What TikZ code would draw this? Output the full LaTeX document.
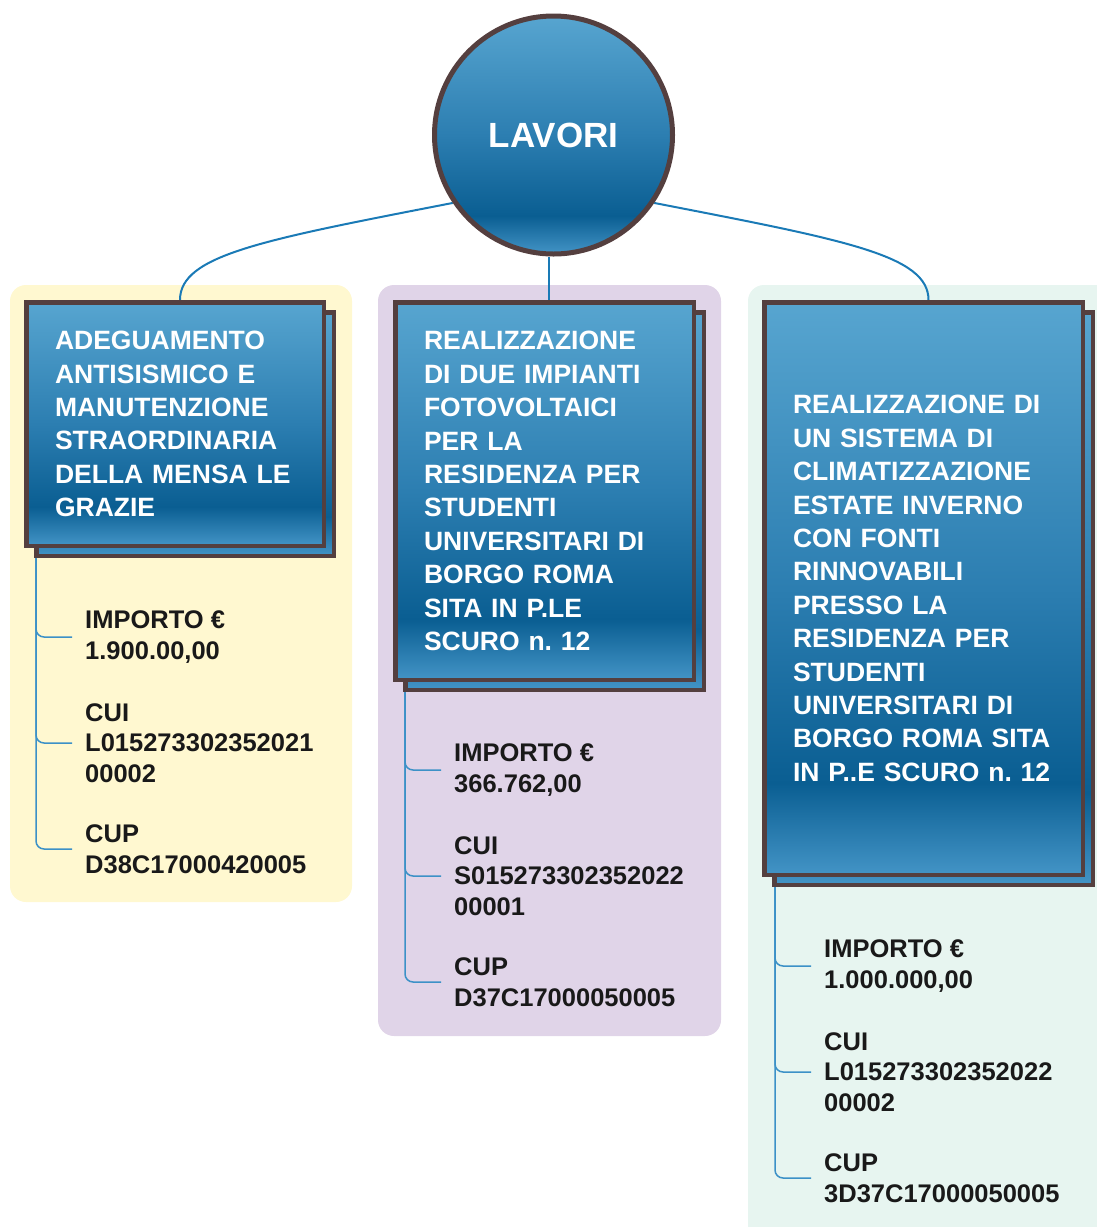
\documentclass[tikz,border=0pt]{standalone}
\usepackage{fontspec}
\setmainfont{Liberation Sans}
\usetikzlibrary{positioning,backgrounds}

\definecolor{bluetop}{HTML}{57A5D0}
\definecolor{bluemid}{HTML}{2C7EB1}
\definecolor{bluedark}{HTML}{0A5E92}
\definecolor{bluelow}{HTML}{4394C6}
\definecolor{frame}{HTML}{543F3F}
\definecolor{linkblue}{HTML}{1A7AB6}
\definecolor{twigblue}{HTML}{3C91C7}
\definecolor{colyellow}{HTML}{FFF8D0}
\definecolor{colpurple}{HTML}{E0D4E8}
\definecolor{colgreen}{HTML}{E7F5F0}

\pgfdeclareverticalshading{lavshade}{100bp}{color(0bp)=(bluelow); color(25bp)=(bluelow); color(33bp)=(bluedark); color(50bp)=(bluemid); color(75bp)=(bluetop); color(100bp)=(bluetop)}

\begin{document}
\begin{tikzpicture}[x=1pt, y=-1pt, node distance=106pt,
    title/.style={draw=frame, line width=4.5pt, shading=lavshade, text=white,
      font=\fontsize{26.5}{33.4}\selectfont\bfseries\frenchspacing, align=left, inner sep=0pt},
    item/.style={font=\fontsize{25.5}{30.5}\selectfont\bfseries, align=left,
      inner xsep=13pt, inner ysep=0pt, text=black!90},
    link/.style={draw=linkblue, line width=2pt},
    twig/.style={draw=twigblue, line width=1.5pt, rounded corners=8pt}]
  \path[use as bounding box, clip] (0,0) rectangle (1097,1227);

  % cerchio principale
  \node[circle, draw=frame, line width=5pt, shading=lavshade, minimum size=238pt,
    text=white, font=\fontsize{35}{40}\selectfont\bfseries] (Lavori) at (553.5,135) {LAVORI};

  % riquadri dei lavori
  \node[title, minimum width=297.5pt, minimum height=243.5pt] (AdegShadow) at (185,434) {};
  \node[title, text width=240pt, minimum width=297.5pt, minimum height=243.5pt] (Adeg) at (175,424)
    {ADEGUAMENTO\\ANTISISMICO E\\MANUTENZIONE\\STRAORDINARIA\\DELLA MENSA LE\\GRAZIE};

  \node[title, minimum width=298.5pt, minimum height=377.5pt] (FotoShadow) at (554.5,501) {};
  \node[title, text width=241pt, minimum width=298.5pt, minimum height=377.5pt] (Foto) at (544.5,491)
    {REALIZZAZIONE\\DI DUE IMPIANTI\\FOTOVOLTAICI\\PER LA\\RESIDENZA PER\\STUDENTI\\UNIVERSITARI DI\\BORGO ROMA\\SITA IN P.LE\\SCURO n. 12};

  \node[title, minimum width=318.5pt, minimum height=572.5pt] (ClimaShadow) at (933.5,598.5) {};
  \node[title, text width=261pt, minimum width=318.5pt, minimum height=572.5pt] (Clima) at (923.5,588.5)
    {REALIZZAZIONE DI\\UN SISTEMA DI\\CLIMATIZZAZIONE\\ESTATE INVERNO\\CON FONTI\\RINNOVABILI\\PRESSO LA\\RESIDENZA PER\\STUDENTI\\UNIVERSITARI DI\\BORGO ROMA SITA\\IN P..E SCURO n. 12};

  % dati
  \node[item, anchor=west] (AdegImp) at ([xshift=38pt,yshift=-79pt]AdegShadow.south west) {IMPORTO €\\1.900.00,00};
  \node[item, below=of AdegImp.west, anchor=west] (AdegCui) {CUI\\L015273302352021\\00002};
  \node[item, below=of AdegCui.west, anchor=west] (AdegCup) {CUP\\D38C17000420005};

  \node[item, anchor=west] (FotoImp) at ([xshift=38pt,yshift=-78pt]FotoShadow.south west) {IMPORTO €\\366.762,00};
  \node[item, below=of FotoImp.west, anchor=west] (FotoCui) {CUI\\S015273302352022\\00001};
  \node[item, below=of FotoCui.west, anchor=west] (FotoCup) {CUP\\D37C17000050005};

  \node[item, anchor=west] (ClimaImp) at ([xshift=39pt,yshift=-79pt]ClimaShadow.south west) {IMPORTO €\\1.000.000,00};
  \node[item, below=of ClimaImp.west, anchor=west] (ClimaCui) {CUI\\L015273302352022\\00002};
  \node[item, below=of ClimaCui.west, anchor=west] (ClimaCup) {CUP\\3D37C17000050005};

  \begin{scope}[on background layer]
    \fill[colyellow, rounded corners=16pt] (10,285) rectangle (352,902);
    \fill[colpurple, rounded corners=16pt] (378,285) rectangle (721,1036);
    \fill[colgreen, rounded corners=16pt] (748,285) rectangle (1120,1250);
    % collegamenti
    \draw[link] (Lavori.214) .. controls +(-190,37) and +(0,-45) .. ([xshift=5pt]Adeg.north);
    \draw[link] ([xshift=4.5pt]Foto.north) -- ([xshift=4.5pt]Foto.north |- Lavori.south);
    \draw[link] (Lavori.-34) .. controls +(190,37) and +(0,-45) .. ([xshift=5pt]Clima.north);
  \end{scope}

  \draw[twig] ([xshift=2pt]AdegShadow.south west) |- (AdegImp.west);
  \draw[twig] ([xshift=2pt]AdegShadow.south west) |- (AdegCui.west);
  \draw[twig] ([xshift=2pt]AdegShadow.south west) |- (AdegCup.west);
  \draw[twig] ([xshift=2pt]FotoShadow.south west) |- (FotoImp.west);
  \draw[twig] ([xshift=2pt]FotoShadow.south west) |- (FotoCui.west);
  \draw[twig] ([xshift=2pt]FotoShadow.south west) |- (FotoCup.west);
  \draw[twig] ([xshift=3pt]ClimaShadow.south west) |- (ClimaImp.west);
  \draw[twig] ([xshift=3pt]ClimaShadow.south west) |- (ClimaCui.west);
  \draw[twig] ([xshift=3pt]ClimaShadow.south west) |- (ClimaCup.west);
\end{tikzpicture}
\end{document}
